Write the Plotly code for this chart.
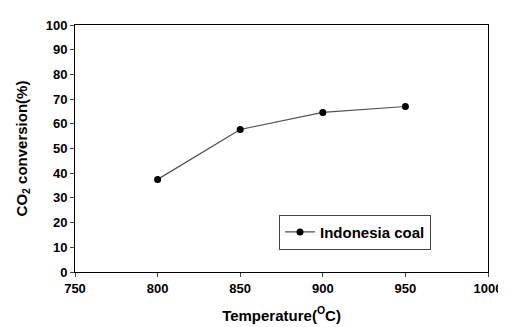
import plotly.graph_objects as go

temperature = [800, 850, 900, 950]
conversion = [37.5, 57.7, 64.6, 67.0]
series_name = "Indonesia coal"
x_ticks = [750, 800, 850, 900, 950, 1000]
y_ticks = [0, 10, 20, 30, 40, 50, 60, 70, 80, 90, 100]

fig = go.Figure()
fig.add_trace(go.Scatter(
    x=temperature, y=conversion, mode="lines+markers", name=series_name,
    line=dict(color="#505050", width=1.2),
    marker=dict(color="black", size=7, symbol="circle"),
))

# page has an 8px body margin, so the figure is sized 498x319
font_family = "Liberation Sans, Arial, sans-serif"
fig.update_layout(
    width=498, height=319,
    margin=dict(l=67, r=18, t=10, b=55),
    paper_bgcolor="white", plot_bgcolor="white",
    font=dict(family=font_family, size=12, color="black"),
    showlegend=True,
    legend=dict(
        x=0.494, y=0.232, xanchor="left", yanchor="top",
        bordercolor="#444444", borderwidth=1, bgcolor="white",
        font=dict(family=font_family, size=15, color="black", weight="bold"),
    ),
)
fig.update_xaxes(
    range=[750, 1000], tickvals=x_ticks, ticks="outside", ticklen=4,
    showline=True, linecolor="black", linewidth=1, mirror=True,
    showgrid=False, zeroline=False, automargin=False,
    tickfont=dict(size=13, weight="bold"),
    title=dict(text="Temperature(<sup>O</sup>C)", font=dict(size=15, weight="bold")),
)
fig.update_yaxes(
    range=[0, 100], tickvals=y_ticks, ticks="outside", ticklen=4,
    showline=True, linecolor="black", linewidth=1, mirror=True,
    showgrid=False, zeroline=False, automargin=True,
    tickfont=dict(size=13, weight="bold"),
    title=dict(text="CO<sub>2</sub> conversion(%)", font=dict(size=15, weight="bold"), standoff=14),
)

fig.write_html("out.html")
